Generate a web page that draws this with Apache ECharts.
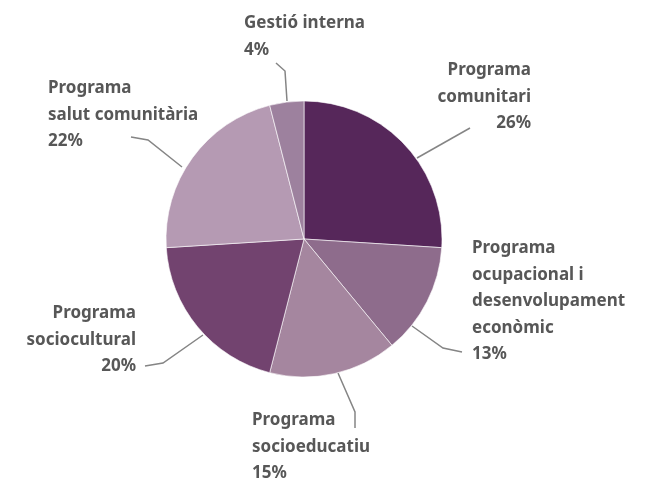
<!DOCTYPE html>
<html><head><meta charset="utf-8">
<script src="https://cdn.jsdelivr.net/npm/echarts@6/dist/echarts.min.js"></script>
<style>html,body{margin:0;padding:0;background:#fff}#c{width:664px;height:479px}</style>
</head><body><div id="c"></div>
<script>
var categories = ['Programa\ncomunitari', 'Programa\nocupacional i\ndesenvolupament\neconòmic', 'Programa\nsocioeducatiu', 'Programa\nsociocultural', 'Programa\nsalut comunitària', 'Gestió interna'];
var values = [26, 13, 15, 20, 22, 4];
var colors = ['#56275A', '#8E6C8C', '#A5869F', '#72436F', '#B59AB3', '#9D819E'];

// label placement (text blocks and leader lines)
var labelPos = [
  {x: 531, y: 57, align: 'right', line: [[417, 158], [470, 128]]},
  {x: 472, y: 235, align: 'left', line: [[412, 326], [443, 348], [462, 352]]},
  {x: 252, y: 407, align: 'left', line: [[338, 373], [355, 412], [355, 428]]},
  {x: 136, y: 300, align: 'right', line: [[203, 335], [163, 363], [145, 366]]},
  {x: 48, y: 75, align: 'left', line: [[182, 167], [148, 140], [131, 137]]},
  {x: 244, y: 10, align: 'left', line: [[287, 101], [285, 71], [276, 63]]}
];

var chart = echarts.init(document.getElementById('c'), null, {renderer: 'canvas'});
chart.setOption({
  animation: false,
  series: [{
    type: 'pie',
    center: [304, 239],
    radius: 138,
    startAngle: 90,
    clockwise: true,
    itemStyle: {borderColor: '#ffffff', borderWidth: 0.6},
    data: categories.map(function (n, i) { return {name: n, value: values[i], itemStyle: {color: colors[i]}}; }),
    label: {
      show: true,
      formatter: '{b}\n{c}%',
      color: '#575757',
      fontFamily: 'Noto Sans',
      fontWeight: 'bold',
      fontSize: 17,
      lineHeight: 26.5,
      overflow: 'none',
      width: 300
    },
    labelLine: {show: true, lineStyle: {color: '#858585', width: 1.5}},
    labelLayout: function (p) {
      var L = labelPos[p.dataIndex];
      return {x: L.x, y: L.y, align: L.align, verticalAlign: 'top', labelLinePoints: L.line};
    }
  }]
});
</script></body></html>
